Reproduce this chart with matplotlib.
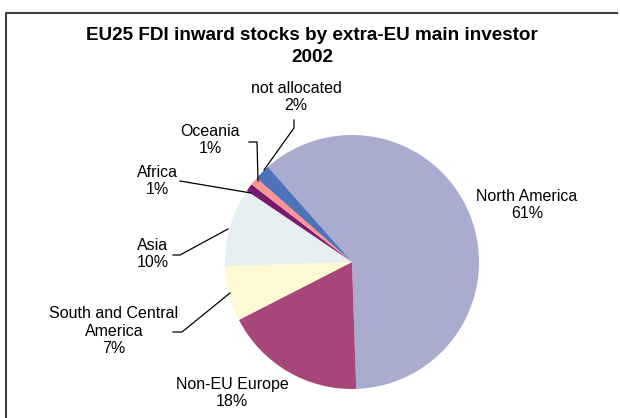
import matplotlib
matplotlib.use("Agg")
import matplotlib.pyplot as plt

plt.rcParams['font.family'] = ['Liberation Sans', 'DejaVu Sans']

categories = ["North America", "Non-EU Europe", "South and Central\nAmerica", "Asia",
              "Africa", "Oceania", "not allocated"]
values = [61, 18, 7, 10, 1, 1, 2]
colors = ["#A9ABCF", "#A8467A", "#FDF9D3", "#E5EFF1", "#7A1A6E", "#FF9494", "#4F73B8"]

W, H = 620, 418
fig = plt.figure(figsize=(W / 100, H / 100), dpi=100)
ax = fig.add_axes([0, 0, 1, 1])

def Y(y):
    return H - y

ax.pie(values, colors=colors, startangle=131.5, counterclock=False,
       center=(352, Y(262)), radius=127, wedgeprops=dict(linewidth=0),
       frame=True)
ax.set_xlim(0, W)
ax.set_ylim(0, H)
ax.set_aspect("auto")
ax.axis("off")

# border (top and left)
ax.plot([5.5, 5.5, 618], [0, Y(12.5), Y(12.5)], color="#404040", lw=1.5,
        solid_capstyle="butt", clip_on=False)

ax.text(312, Y(35), "EU25 FDI inward stocks by extra-EU main investor",
        ha="center", va="center", fontsize=13.6, fontweight="bold")
ax.text(312, Y(58), "2002", ha="center", va="center", fontsize=13.6, fontweight="bold")

fs = 11.5
pct = [f"{v}%" for v in values]
label_pos = [(527, 205), (232, 393), (114, 331), (153, 254), (157, 181), (210, 140), (296, 97)]
for name, p, (x, y) in zip(categories, pct, label_pos):
    ax.text(x, Y(y), f"{name}\n{p}", ha="center", va="center", fontsize=fs,
            linespacing=1.2)

lw = 0.9
lines = [
    [(173, 332), (182, 332), (230, 293)],
    [(173, 255), (180, 255), (228, 229)],
    [(180, 181), (251, 193)],
    [(249, 142), (257, 142), (258, 181)],
    [(294, 120), (294, 128), (264, 170)],
]
for pts in lines:
    xs = [p[0] for p in pts]
    ys = [Y(p[1]) for p in pts]
    ax.plot(xs, ys, color="black", lw=lw)

fig.savefig("out.png", dpi=100)
